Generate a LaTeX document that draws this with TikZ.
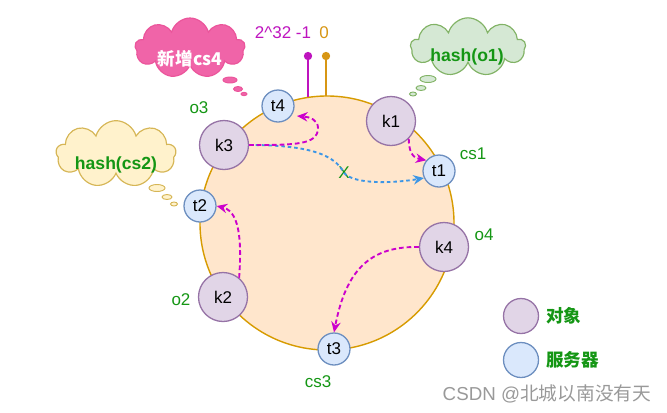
\documentclass[tikz,border=0pt]{standalone}
\usepackage{fontspec}
\setmainfont{Liberation Sans}
\newfontfamily\cjk{Noto Sans CJK SC}
\usetikzlibrary{arrows.meta,shapes.symbols,shapes.geometric}

\definecolor{ringfill}{RGB}{255,230,204}
\definecolor{ringline}{RGB}{215,155,0}
\definecolor{objfill}{RGB}{225,213,231}
\definecolor{objline}{RGB}{150,115,166}
\definecolor{srvfill}{RGB}{218,232,252}
\definecolor{srvline}{RGB}{108,142,191}
\definecolor{labgreen}{RGB}{20,150,20}
\definecolor{arrmag}{RGB}{204,0,204}
\definecolor{arrblue}{RGB}{60,150,230}
\definecolor{pinmag}{RGB}{190,20,190}
\definecolor{pinorange}{RGB}{215,150,20}
\definecolor{pinkfill}{RGB}{240,100,168}
\definecolor{pinkline}{RGB}{235,85,155}
\definecolor{greenfill}{RGB}{213,232,212}
\definecolor{greenline}{RGB}{130,179,102}
\definecolor{yellowfill}{RGB}{255,242,204}
\definecolor{yellowline}{RGB}{214,182,86}

\begin{document}
\begin{tikzpicture}[x=0.03cm, y=-0.03cm, font=\fontsize{14.5}{17}\selectfont]
    \tikzstyle{ring_style} = [circle, draw=ringline, fill=ringfill, line width=1.2pt, minimum size=7.62cm, inner sep=0pt]
    \tikzstyle{obj_style} = [circle, draw=objline, fill=objfill, line width=1.1pt, minimum size=1.47cm, inner sep=0pt]
    \tikzstyle{srv_style} = [circle, draw=srvline, fill=srvfill, line width=1.1pt, minimum size=0.96cm, inner sep=0pt]
    \tikzstyle{key_style} = [circle, line width=1.1pt, minimum size=1.05cm, inner sep=0pt]
    \tikzstyle{label_style} = [text=labgreen]
    \tikzstyle{cloud_style} = [cloud, cloud puffs=9, aspect=2, line width=1pt, inner sep=0pt]
    \tikzstyle{bubble_style} = [ellipse, line width=0.8pt, inner sep=0pt]
    \tikzstyle{pin_style} = [circle, inner sep=0pt, minimum size=0.25cm]
    \tikzstyle{bold_text} = [font=\fontsize{15}{17}\selectfont\bfseries]
    \tikzstyle{move_edge} = [draw=arrmag, line width=1.6pt, dash pattern=on 4pt off 2.5pt, -{Stealth[length=9pt,width=8pt]}]
    \tikzstyle{old_edge} = [draw=arrblue, line width=1.6pt, dash pattern=on 3pt off 2.5pt, -{Stealth[length=9pt,width=8pt]}]
    \useasboundingbox (0,0) rectangle (667,412);

    \node[ring_style] (ring) at (327,223) {};

    \node[pin_style, fill=pinmag] (pmax) at (308,56) {};
    \node[pin_style, fill=pinorange] (pzero) at (326,56) {};
    \coordinate (pmax_foot) at (308,97);
    \coordinate (pzero_foot) at (326,96);
    \draw[pinmag, line width=1.3pt] (pmax) -- (pmax_foot);
    \draw[pinorange, line width=1.3pt] (pzero) -- (pzero_foot);
    \node[text=pinmag] (lmax) at (283,33) {2\textasciicircum32 -1};
    \node[text=pinorange] (lzero) at (324,33) {0};

    \node[obj_style] (k1) at (391,121) {k1};
    \node[obj_style] (k2) at (223,297) {k2};
    \node[obj_style] (k3) at (224,145) {k3};
    \node[obj_style] (k4) at (444,247) {k4};
    \node[srv_style] (t1) at (439,171) {t1};
    \node[srv_style] (t2) at (200,206) {t2};
    \node[srv_style] (t3) at (334,349) {t3};
    \node[srv_style] (t4) at (278,106) {t4};

    \node[label_style] (lo3) at (199,108) {o3};
    \node[label_style] (lcs1) at (473,154) {cs1};
    \node[label_style] (lo4) at (484,235) {o4};
    \node[label_style] (lo2) at (181,300) {o2};
    \node[label_style] (lcs3) at (318,382) {cs3};

    \node[cloud_style, draw=pinkline, fill=pinkfill, minimum width=3.3cm, minimum height=1.8cm] (cloud_cs4) at (190,48) {};
    \node[bold_text, text=white] (tcs4) at (190,59) {\cjk 新增cs4};
    \node[bubble_style, draw=pinkline, fill=pinkfill, minimum width=0.42cm, minimum height=0.18cm] (bp1) at (230,80) {};
    \node[bubble_style, draw=pinkline, fill=pinkfill, minimum width=0.27cm, minimum height=0.15cm] (bp2) at (238,89) {};
    \node[bubble_style, draw=pinkline, fill=pinkfill, minimum width=0.18cm, minimum height=0.1cm] (bp3) at (244,94) {};

    \node[cloud_style, draw=greenline, fill=greenfill, minimum width=3.45cm, minimum height=1.75cm] (cloud_o1) at (468,47) {};
    \node[bold_text, text=labgreen] (to1) at (467,57) {hash(o1)};
    \node[bubble_style, draw=greenline, fill=greenfill, minimum width=0.48cm, minimum height=0.21cm] (bg1) at (428,79) {};
    \node[bubble_style, draw=greenline, fill=greenfill, minimum width=0.3cm, minimum height=0.15cm] (bg2) at (421,88) {};
    \node[bubble_style, draw=greenline, fill=greenfill, minimum width=0.21cm, minimum height=0.12cm] (bg3) at (413,94) {};

    \node[cloud_style, draw=yellowline, fill=yellowfill, minimum width=3.6cm, minimum height=2cm] (cloud_cs2) at (116,154) {};
    \node[bold_text, text=labgreen] (tcs2) at (116,165) {hash(cs2)};
    \node[bubble_style, draw=yellowline, fill=yellowfill, minimum width=0.48cm, minimum height=0.21cm] (by1) at (157,188) {};
    \node[bubble_style, draw=yellowline, fill=yellowfill, minimum width=0.3cm, minimum height=0.15cm] (by2) at (167,197) {};
    \node[bubble_style, draw=yellowline, fill=yellowfill, minimum width=0.21cm, minimum height=0.12cm] (by3) at (174,204) {};

    \node[text=labgreen] (xmark) at (344,173) {X};
    \coordinate (t4_in) at (297,116);

    \draw[old_edge] (k3.east) .. controls (310,145) and (335,155) .. (xmark.center)
        .. controls (355,185) and (395,183) .. (t1.205);
    \draw[move_edge] (k3.east) .. controls (295,145) and (318,145) .. (318,128)
        .. controls (318,120) and (310,117) .. (t4_in);
    \draw[move_edge] (k1.-45) .. controls +(0,18) and +(-10,-2) .. (t1.140);
    \draw[move_edge] (k2.50) .. controls (241,250) and (242,212) .. (t2.east);
    \draw[move_edge] (k4.west) .. controls (370,246) and (346,270) .. (t3.north);

    \node[key_style, draw=objline, fill=objfill] (key_obj) at (521,316) {};
    \node[key_style, draw=srvline, fill=srvfill] (key_srv) at (521,360) {};
    \node[bold_text, text=labgreen, anchor=west, inner sep=0pt] (tobj) at (546,316) {\cjk 对象};
    \node[bold_text, text=labgreen, anchor=west, inner sep=0pt] (tsrv) at (546,360) {\cjk 服务器};

    \node[text=black!40, font=\fontsize{16}{18}\selectfont] (mark) at (547,394) {CSDN @{\cjk 北城以南没有天}};
\end{tikzpicture}
\end{document}
